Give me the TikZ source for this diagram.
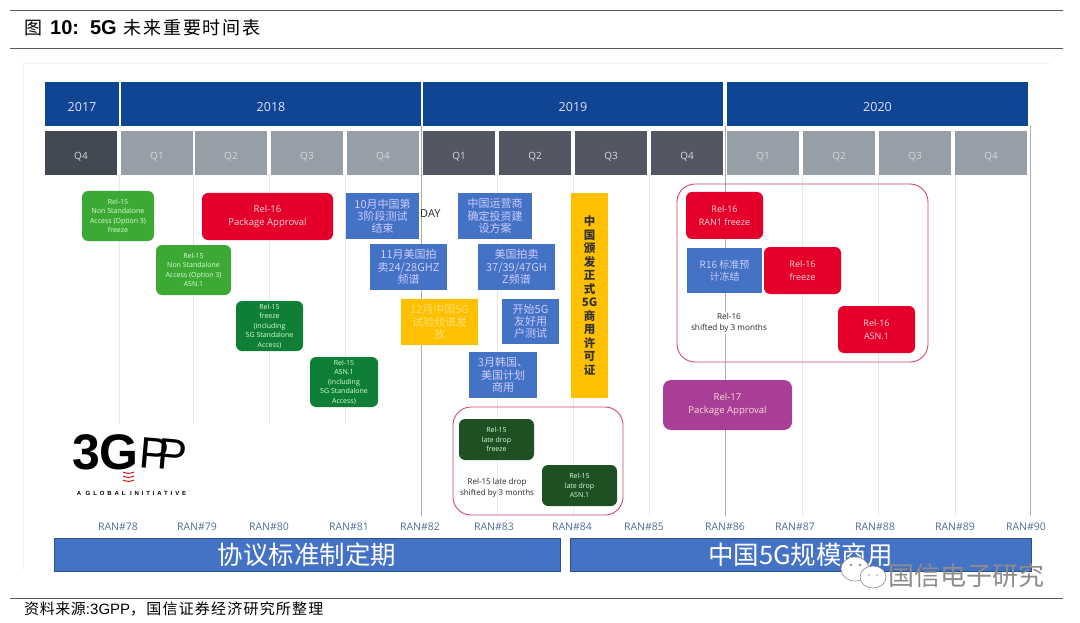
\documentclass[tikz,border=0pt]{standalone}
\usepackage{fontspec}
\setmainfont{Open Sans}
\newfontfamily\cjk{Noto Sans CJK SC}
\newfontfamily\arial{Liberation Sans}
\usetikzlibrary{positioning,calc}
\newcommand*{\fs}[2]{\fontsize{#1}{#2}\selectfont}
\definecolor{yearblue}{HTML}{0F4593}
\definecolor{quartgrey}{HTML}{969EA8}
\definecolor{quartdark}{HTML}{434953}
\definecolor{quartmid}{HTML}{525763}
\definecolor{relred}{HTML}{E4002B}
\definecolor{litegreen}{HTML}{3DA935}
\definecolor{midgreen}{HTML}{0F7F35}
\definecolor{lategreen}{HTML}{1E5024}
\definecolor{cnblue}{HTML}{4472C4}
\definecolor{cnyellow}{HTML}{FFC000}
\definecolor{relpurple}{HTML}{A83E96}
\definecolor{ranblue}{HTML}{4F6E96}
\definecolor{framered}{HTML}{CF4A62}
\tikzset{
  yearbar/.style={inner sep=0pt,fill=yearblue,text=blue!12,minimum height=44,text height=16,text depth=0,font=\fs{12.5}{15}},
  quartbox/.style={inner sep=0pt,fill=quartgrey,text=white!85!black,minimum width=72,minimum height=44,text height=14,text depth=0,font=\fs{10}{12}},
  relbox/.style={inner sep=0pt,align=center,rounded corners=6,text=white!85!green},
  smalltxt/.style={font=\fs{7}{9.5}},
  bigtxt/.style={font=\fs{9.5}{13},text=white!85!red},
  cnbox/.style={inner sep=0pt,align=center,fill=cnblue,text=white!80!blue,font=\cjk\fs{11}{12.2}},
  ranlbl/.style={inner sep=0pt,text=ranblue,font=\fs{10.5}{12}},
  gridline/.style={draw=black!9,line width=.7},
  griddark/.style={draw=black!32,line width=1},
  shiftbox/.style={draw=framered,rounded corners=18,line width=.9},
  rulebar/.style={draw=black!65,line width=.9},
  planbar/.style={inner sep=0pt,fill=cnblue,draw=cnblue!70!black,line width=.5,text=white,minimum height=33,font=\cjk\fs{25.5}{28}}
}
\begin{document}
\begin{tikzpicture}[x=1pt,y=-1pt]
\useasboundingbox (0,0) rectangle (1080,623);
% Page rules and caption
\draw[rulebar] (10,10) -- ++(1053,0);
\draw[rulebar] (10,48) -- ++(1053,0);
\draw[rulebar] (10,598) -- ++(1053,0);
\node[anchor=west,inner sep=0pt,font=\fs{18}{20}] (caption) at (24,28)
  {{\cjk 图}\hspace{8pt}{\arial\bfseries\fs{20}{22}10:\hspace{11pt}5G}\hspace{7pt}{\cjk\addfontfeature{LetterSpace=10}未来重要时间表}};
\node[anchor=west,inner sep=0pt,font=\fs{15}{17}] (source) at (24,609)
  {{\cjk\addfontfeature{LetterSpace=4}资料来源}{\arial :3GPP}{\cjk\addfontfeature{LetterSpace=8}\char"FF0C 国信证券经济研究所整理}};
% Faint panel behind the chart
\draw[black!6,line width=.8] (23,570) -- (23,63) -- (1050,63);
% Grid lines
\foreach \x in {119,193,269,345} \draw[gridline] (\x,175) -- (\x,424);
\foreach \x in {497,573,649,802,878,955} \draw[gridline] (\x,175) -- (\x,516);
\foreach \x in {421,725,1030} \draw[griddark] (\x,126) -- (\x,516);
% Years
\foreach \cx/\bw/\yr in {82/74/2017,271/300/2018,573/300/2019,877.5/301/2020}
  \node[yearbar,minimum width=\bw] (y\yr) at (\cx,104) {\yr};
% Quarters
\foreach \cx/\nm/\lbl/\col in {81/a/Q4/quartdark,157/b/Q1/quartgrey,231/c/Q2/quartgrey,307/d/Q3/quartgrey,383/e/Q4/quartgrey,
    459/f/Q1/quartmid,535/g/Q2/quartmid,611/h/Q3/quartmid,687/i/Q4/quartmid,
    763/j/Q1/quartgrey,839/k/Q2/quartgrey,915/l/Q3/quartgrey,991/m/Q4/quartgrey}
  \node[quartbox,fill=\col] (q\nm) at (\cx,153) {\lbl};
% Rel-15 and Rel-16 milestones of 2018
\node[relbox,smalltxt,fill=litegreen,minimum width=72,minimum height=50] (nsafreeze) at (118,216)
  {Rel-15\\Non Standalone\\Access (Option 3)\\freeze};
\node[relbox,bigtxt,fill=relred,minimum width=131,minimum height=47] (pkgsixteen) at (267.5,216.5)
  {Rel-16\\Package Approval};
\node[relbox,smalltxt,fill=litegreen,minimum width=75,minimum height=50] (nsaasn) at (193.5,270)
  {Rel-15\\Non Standalone\\Access (Option 3)\\ASN.1};
\node[relbox,smalltxt,fill=midgreen,minimum width=67,minimum height=50] (safreeze) at (269.5,326)
  {Rel-15\\freeze\\(including\\5G Standalone\\Access)};
\node[relbox,smalltxt,fill=midgreen,minimum width=68,minimum height=50] (saasn) at (344,382)
  {Rel-15\\ASN.1\\(including\\5G Standalone\\Access)};
% Chinese and US milestones
\node[cnbox,minimum width=73,minimum height=46] (cnthree) at (382.5,216) {10月中国第\\3阶段测试\\结束};
\node[inner sep=0pt,anchor=west,font=\fs{11}{13},text=black!85] (daylbl) at (420,214) {DAY};
\node[cnbox,minimum width=77,minimum height=46] (usauction) at (408.5,267) {11月美国拍\\卖24/28GHZ\\频谱};
\node[cnbox,fill=cnyellow,text=white!45!cnyellow,minimum width=77,minimum height=46] (cntrial) at (439.5,322) {12月中国5G\\试验频谱发\\放};
\node[cnbox,minimum width=74,minimum height=46] (cnplan) at (495,216) {中国运营商\\确定投资建\\设方案};
\node[cnbox,minimum width=77,minimum height=46] (usband) at (516.5,267) {美国拍卖\\37/39/47GH\\Z频谱};
\node[cnbox,minimum width=57,minimum height=45] (ustest) at (530.5,321.5) {开始5G\\友好用\\户测试};
\node[cnbox,minimum width=68,minimum height=46] (krus) at (503,375) {3月韩国、\\美国计划\\商用};
\node[cnbox,fill=cnyellow,text=black!80,minimum width=37,minimum height=205,font=\cjk\bfseries\fs{11.5}{13.5}] (cnlicence) at (589.5,295.5)
  {中\\国\\颁\\发\\正\\式\\5G\\商\\用\\许\\可\\证};
% Rel-15 late drop
\node[shiftbox,inner sep=0pt,minimum width=170,minimum height=108] (lateframe) at (538,461) {};
\node[relbox,smalltxt,fill=lategreen,minimum width=75,minimum height=41] (latefreeze) at (496.5,439.5) {Rel-15\\late drop\\freeze};
\node[relbox,smalltxt,fill=lategreen,minimum width=75,minimum height=41] (lateasn) at (579.5,485.5) {Rel-15\\late drop\\ASN.1};
\node[inner sep=0pt,align=center,text=black!85,font=\fs{8}{11}] (lateshift) at (497,488) {Rel-15 late drop\\shifted by 3 months};
% Rel-16 shifted
\node[shiftbox,inner sep=0pt,minimum width=251,minimum height=178] (sixframe) at (802.5,273) {};
\node[relbox,bigtxt,font=\fs{9}{12.5},fill=relred,minimum width=77,minimum height=47] (ranfreeze) at (724.5,215.5) {Rel-16\\RAN1 freeze};
\node[cnbox,minimum width=75,minimum height=45,font=\cjk\fs{10}{11.5}] (rfreeze) at (724.5,270.5) {R16 标准预\\计冻结};
\node[relbox,bigtxt,font=\fs{9}{12.5},fill=relred,minimum width=77,minimum height=47] (sixfreeze) at (802.5,270.5) {Rel-16\\freeze};
\node[relbox,bigtxt,font=\fs{9}{12.5},fill=relred,minimum width=77,minimum height=47] (sixasn) at (876.5,329.5) {Rel-16\\ASN.1};
\node[inner sep=1pt,fill=white,align=center,text=black!85,font=\fs{8.2}{11}] (sixshift) at (729,323) {Rel-16\\shifted by 3 months};
\node[relbox,bigtxt,fill=relpurple,minimum width=129,minimum height=50,rounded corners=8] (pkgseventeen) at (727.5,405) {Rel-17\\Package Approval};
% 3GPP logo
\node[inner sep=0pt,anchor=east,font=\arial\bfseries\fs{50}{52},text=black] (logothree) at (139,452) {3G};
\node[inner sep=0pt,anchor=west,font=\arial\fs{44}{46},text=black,rotate=-5] (logopp) at (140,452) {P\hspace{-12pt}P};
\foreach \yy in {472,476,480} \draw[red!75!black,line width=.9] (123,\yy) to[bend right=25] (134,\yy);
\node[inner sep=0pt,font=\arial\bfseries\fs{6}{7}] (logotag) at (131.5,493)
  {\addfontfeature{LetterSpace=48}A GLOBAL INITIATIVE};
% RAN meetings
\foreach \cx/\num in {118/78,197/79,269/80,349/81,420/82,494/83,572/84,644/85,725/86,795/87,875/88,955/89,1026/90}
  \node[ranlbl] (ran\num) at (\cx,527) {RAN\#\num};
% Phase bars
\node[planbar,minimum width=506] (specbar) at (307,554.5) {协议标准制定期};
\node[planbar,minimum width=461] (usebar) at (800.5,554.5) {中国5G规模商用};
% WeChat watermark
\draw[black!45,fill=white,line width=.6] (855,569) ellipse (14 and 12);
\draw[black!45,fill=white,line width=.6] (873,577) ellipse (13 and 11);
\foreach \ex in {851,860} \fill[black!45] (\ex,565) circle (1.3);
\foreach \ex in {869,877} \fill[black!35] (\ex,575) circle (1);
\node[inner sep=0pt,anchor=west,text=black!45,font=\cjk\fs{26}{28}] (wmark) at (888,576) {国信电子研究};
\end{tikzpicture}
\end{document}
